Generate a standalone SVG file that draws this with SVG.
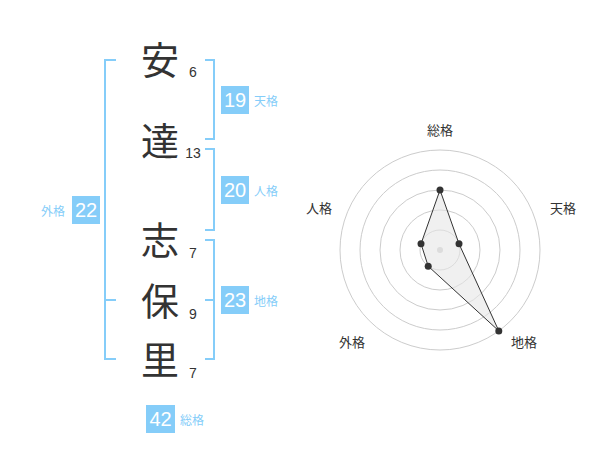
<svg xmlns="http://www.w3.org/2000/svg" width="600" height="470" viewBox="0 0 600 470">
<style>
.kanji{font-family:"Noto Sans CJK JP","Noto Sans CJK SC",sans-serif;font-size:38px;fill:#333;text-anchor:middle}
.num{font-family:"Liberation Sans",Arial,sans-serif;font-size:14px;fill:#333;text-anchor:middle}
.box{fill:#85cdf9}
.boxt{font-family:"Liberation Sans",Arial,sans-serif;font-size:20px;fill:#fff;text-anchor:middle}
.lab{font-family:"Noto Sans CJK JP",sans-serif;font-size:12px;fill:#85cdf9}
.br{fill:none;stroke:#85cdf9;stroke-width:2}
.ring{fill:none;stroke:#ccc;stroke-width:1}
.rl{font-family:"Noto Sans CJK JP",sans-serif;font-size:13px;fill:#333;text-anchor:middle}
</style>
<rect width="600" height="470" fill="#fff"/>
<g id="name">
<text class="kanji" x="160" y="74">安</text>
<text class="kanji" x="160" y="155">達</text>
<text class="kanji" x="160" y="254">志</text>
<text class="kanji" x="160" y="315">保</text>
<text class="kanji" x="160" y="374">里</text>
<text class="num" x="193" y="77">6</text>
<text class="num" x="193" y="158">13</text>
<text class="num" x="193" y="258">7</text>
<text class="num" x="193" y="319">9</text>
<text class="num" x="193" y="378">7</text>
</g>
<g id="connectors">
<path class="br" d="M205,60 H214 V139 H205"/>
<path class="br" d="M205,149 H214 V230 H205"/>
<path class="br" d="M205,240 H214 V359 H205 M205,300 H214"/>
<path class="br" d="M116,60 H105 V359 H116 M105,300 H116"/>
</g>
<g id="tenkaku">
<rect class="box" x="221" y="86" width="28" height="28"/>
<text class="boxt" x="235" y="107">19</text>
<text class="lab" x="254" y="106">天格</text>
</g>
<g id="jinkaku">
<rect class="box" x="221" y="176" width="28" height="28"/>
<text class="boxt" x="235" y="197">20</text>
<text class="lab" x="254" y="196">人格</text>
</g>
<g id="chikaku">
<rect class="box" x="221" y="286" width="28" height="28"/>
<text class="boxt" x="235" y="307">23</text>
<text class="lab" x="254" y="306">地格</text>
</g>
<g id="gaikaku">
<rect class="box" x="72" y="196" width="28" height="28"/>
<text class="boxt" x="86" y="217">22</text>
<text class="lab" x="41" y="216">外格</text>
</g>
<g id="soukaku">
<rect class="box" x="146" y="405" width="29" height="28"/>
<text class="boxt" x="160.5" y="426">42</text>
<text class="lab" x="180" y="425">総格</text>
</g>
<g id="radar">
<circle class="ring" cx="440" cy="250" r="20"/>
<circle class="ring" cx="440" cy="250" r="40"/>
<circle class="ring" cx="440" cy="250" r="60"/>
<circle class="ring" cx="440" cy="250" r="80"/>
<circle class="ring" cx="440" cy="250" r="100"/>
<circle cx="440" cy="250" r="3" fill="#ccc"/>
<polygon points="440,190 459,243.8 498.8,330.9 428.2,266.2 421,243.8" fill="#e6e6e6" fill-opacity="0.6" stroke="#333" stroke-width="1"/>
<g fill="#333">
<circle cx="440" cy="190" r="3.5"/>
<circle cx="459" cy="243.8" r="3.5"/>
<circle cx="498.8" cy="330.9" r="3.5"/>
<circle cx="428.2" cy="266.2" r="3.5"/>
<circle cx="421" cy="243.8" r="3.5"/>
</g>
<text class="rl" x="440" y="135">総格</text>
<text class="rl" x="563" y="213">天格</text>
<text class="rl" x="319" y="213">人格</text>
<text class="rl" x="352" y="347">外格</text>
<text class="rl" x="524" y="347">地格</text>
</g>
</svg>
